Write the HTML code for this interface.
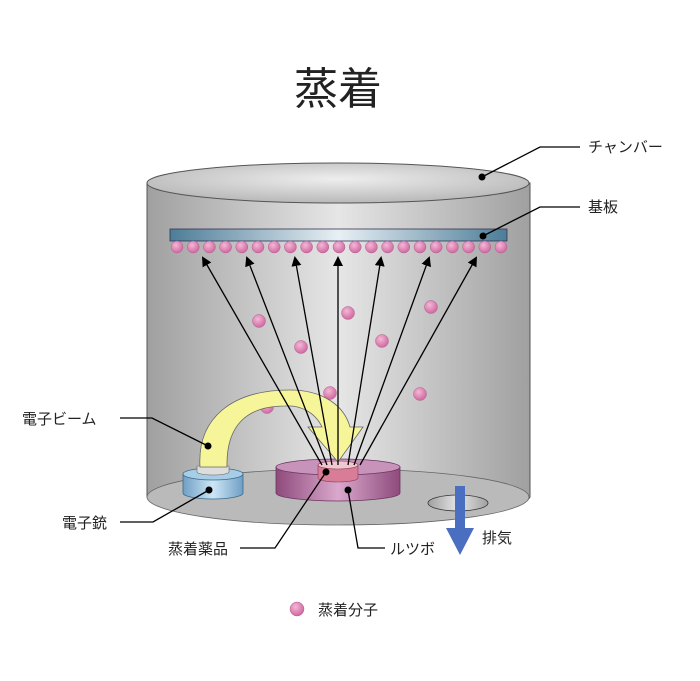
<!DOCTYPE html>
<html><head><meta charset="utf-8"><style>
body{margin:0;background:#fff}
svg text{font-family:"Liberation Sans","Noto Sans CJK JP",sans-serif;fill:#222}
</style></head><body>
<svg width="700" height="676" viewBox="0 0 700 676" xmlns="http://www.w3.org/2000/svg">
<defs>
<linearGradient id="wall" x1="0" x2="1" y1="0" y2="0">
<stop offset="0" stop-color="#a0a0a0"/><stop offset="0.5" stop-color="#e6e6e6"/><stop offset="1" stop-color="#a0a0a0"/></linearGradient>
<radialGradient id="top" cx="0.5" cy="0.4" r="0.6"><stop offset="0" stop-color="#eeeeee"/><stop offset="1" stop-color="#b8b8b8"/></radialGradient>
<linearGradient id="sub" x1="0" x2="1"><stop offset="0" stop-color="#4d7d98"/><stop offset="0.5" stop-color="#e8f0f4"/><stop offset="1" stop-color="#4d7d98"/></linearGradient>
<radialGradient id="ball" cx="0.4" cy="0.35" r="0.6"><stop offset="0" stop-color="#f4b8d6"/><stop offset="1" stop-color="#d26ea4"/></radialGradient>
<linearGradient id="cru" x1="0" x2="1"><stop offset="0" stop-color="#8e4a7c"/><stop offset="0.5" stop-color="#d9a8cc"/><stop offset="1" stop-color="#8e4a7c"/></linearGradient>
<linearGradient id="gun" x1="0" x2="1"><stop offset="0" stop-color="#6f9fc4"/><stop offset="0.5" stop-color="#cde6f6"/><stop offset="1" stop-color="#6f9fc4"/></linearGradient>
<marker id="ah" markerWidth="10" markerHeight="10" refX="8" refY="5" orient="auto" markerUnits="userSpaceOnUse"><path d="M0,0 L10,5 L0,10 Z" fill="#000"/></marker>
</defs>
<text x="338" y="104" font-size="44" text-anchor="middle">蒸着</text>
<path d="M147,183 L147,497 A192,28 0 0 0 530,497 L530,183 Z" fill="url(#wall)" stroke="#555" stroke-width="1"/>
<ellipse cx="338" cy="497" rx="191" ry="28" fill="#bababa" stroke="#666" stroke-width="0.8"/>
<ellipse cx="338" cy="183" rx="191" ry="20" fill="url(#top)" stroke="#555" stroke-width="1"/>
<rect x="170" y="229" width="337" height="12" fill="url(#sub)" stroke="#335" stroke-width="0.8"/>
<g fill="url(#ball)" stroke="#b06090" stroke-width="0.5">
<circle cx="177" cy="247" r="6"/><circle cx="193.2" cy="247" r="6"/><circle cx="209.4" cy="247" r="6"/><circle cx="225.6" cy="247" r="6"/><circle cx="241.8" cy="247" r="6"/><circle cx="258" cy="247" r="6"/><circle cx="274.2" cy="247" r="6"/><circle cx="290.4" cy="247" r="6"/><circle cx="306.6" cy="247" r="6"/><circle cx="322.8" cy="247" r="6"/><circle cx="339" cy="247" r="6"/><circle cx="355.2" cy="247" r="6"/><circle cx="371.4" cy="247" r="6"/><circle cx="387.6" cy="247" r="6"/><circle cx="403.8" cy="247" r="6"/><circle cx="420" cy="247" r="6"/><circle cx="436.2" cy="247" r="6"/><circle cx="452.4" cy="247" r="6"/><circle cx="468.6" cy="247" r="6"/><circle cx="484.8" cy="247" r="6"/><circle cx="501" cy="247" r="6"/>
<circle cx="259" cy="321" r="6.5"/><circle cx="348" cy="313" r="6.5"/><circle cx="431" cy="307" r="6.5"/><circle cx="301" cy="347" r="6.5"/><circle cx="382" cy="341" r="6.5"/><circle cx="330" cy="393" r="6.5"/><circle cx="267" cy="407" r="6.5"/><circle cx="420" cy="394" r="6.5"/>
</g>
<ellipse cx="458" cy="503" rx="30" ry="8" fill="url(#wall)" stroke="#333" stroke-width="0.8"/>
<path d="M276,467 L276,493 A62,8 0 0 0 400,493 L400,467 Z" fill="url(#cru)" stroke="#6a3560" stroke-width="0.8"/>
<ellipse cx="338" cy="467" rx="62" ry="8" fill="#c893bb" stroke="#6a3560" stroke-width="0.8"/>
<path d="M318,465 L318,478 A20,4 0 0 0 358,478 L358,465 Z" fill="#d87c98" stroke="#8a3a58" stroke-width="0.6"/>
<ellipse cx="338" cy="465" rx="20" ry="4" fill="#f0c8d0" stroke="#8a3a58" stroke-width="0.6"/>
<path d="M183,474 L183,493 A30,6 0 0 0 243,493 L243,474 Z" fill="url(#gun)" stroke="#3a6a8a" stroke-width="0.8"/>
<ellipse cx="213" cy="474" rx="30" ry="6" fill="#a8cde6" stroke="#3a6a8a" stroke-width="0.8"/>
<path d="M197,466 L197,472 A16,3 0 0 0 229,472 L229,466 Z" fill="#ddd" stroke="#666" stroke-width="0.6"/>
<path d="M200,467 C197,418 232,390 290,390 C322,390 344,405 350,427 L363,427 L338,462 L308,427 L322,427 C315,412 300,405 285,406 C247,406 226,425 227,467 Z" fill="#f7f59a" stroke="#666" stroke-width="0.8"/>
<g stroke="#000" stroke-width="1.3" marker-end="url(#ah)">
<line x1="322" y1="465" x2="203" y2="258"/><line x1="327" y1="465" x2="247" y2="258"/><line x1="332" y1="465" x2="295" y2="258"/><line x1="338" y1="465" x2="338" y2="258"/><line x1="348" y1="465" x2="381" y2="258"/><line x1="354" y1="465" x2="429" y2="258"/><line x1="360" y1="465" x2="476" y2="258"/>
</g>
<rect x="455" y="486" width="10" height="44" fill="#4a6fc0"/>
<path d="M446,528 L474,528 L460,555 Z" fill="#4a6fc0"/>
<g stroke="#000" stroke-width="1.3" fill="none">
<polyline points="482,177 540,147 580,147"/><polyline points="483,236 540,207 580,207"/>
<polyline points="120,418 152,418 208,446"/><polyline points="120,522 153,522 209,490"/>
<polyline points="240,548 275,548 326,472"/><polyline points="348,490 358,548 385,548"/>
</g>
<g fill="#000"><circle cx="482" cy="177" r="3.5"/><circle cx="483" cy="236" r="3.5"/><circle cx="208" cy="446" r="3.5"/><circle cx="209" cy="490" r="3.5"/><circle cx="326" cy="472" r="3.5"/><circle cx="348" cy="490" r="3.5"/></g>
<g font-size="15">
<text x="588" y="152">チャンバー</text><text x="588" y="212">基板</text>
<text x="22" y="424">電子ビーム</text><text x="62" y="528">電子銃</text>
<text x="168" y="554">蒸着薬品</text><text x="390" y="554">ルツボ</text>
<text x="482" y="543">排気</text><text x="318" y="615">蒸着分子</text>
</g>
<circle cx="297" cy="609" r="7" fill="url(#ball)" stroke="#b06090" stroke-width="0.5"/>
</svg>
</body></html>
